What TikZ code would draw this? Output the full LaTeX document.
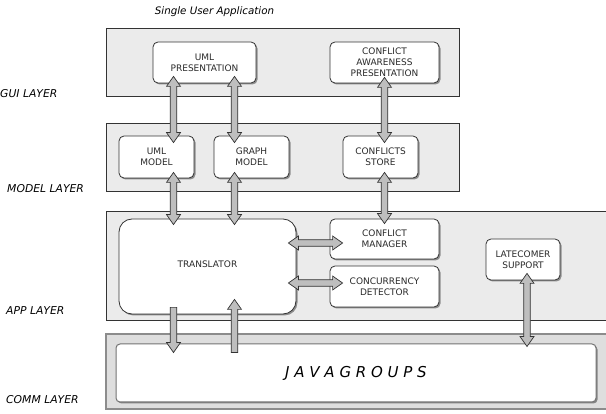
\documentclass[tikz,border=0pt]{standalone}
\usepackage{fontspec}
\setmainfont{DejaVu Sans}
\usetikzlibrary{calc,shadows}
\definecolor{layerfill}{HTML}{EBEBEB}
\definecolor{commfill}{HTML}{DEDEDE}
\definecolor{arrowfill}{HTML}{BEBEBE}
\definecolor{edgecol}{HTML}{333333}
\definecolor{txtcol}{HTML}{2A2A2A}
% double-headed fat arrow between two named coordinates
\newcommand\fatdbl[2]{%
  \draw[fatarrow] (#1)
    -- ($(#1)!10pt!(#2)!7pt!90:(#2)$) -- ($(#1)!10pt!(#2)!3.3pt!90:(#2)$)
    -- ($(#2)!10pt!(#1)!3.3pt!-90:(#1)$) -- ($(#2)!10pt!(#1)!7pt!-90:(#1)$)
    -- (#2)
    -- ($(#2)!10pt!(#1)!7pt!90:(#1)$) -- ($(#2)!10pt!(#1)!3.3pt!90:(#1)$)
    -- ($(#1)!10pt!(#2)!3.3pt!-90:(#2)$) -- ($(#1)!10pt!(#2)!7pt!-90:(#2)$)
    -- cycle;}
% single-headed fat arrow from tail #1 to tip #2
\newcommand\fatone[2]{%
  \draw[fatarrow] ($(#1)!3.3pt!90:(#2)$)
    -- ($(#2)!10pt!(#1)!3.3pt!-90:(#1)$) -- ($(#2)!10pt!(#1)!7pt!-90:(#1)$)
    -- (#2)
    -- ($(#2)!10pt!(#1)!7pt!90:(#1)$) -- ($(#2)!10pt!(#1)!3.3pt!90:(#1)$)
    -- ($(#1)!3.3pt!-90:(#2)$) -- cycle;}
\tikzset{
  layer/.style={draw=edgecol, line width=0.8pt, fill=layerfill},
  commlayer/.style={draw=black!45, line width=1.2pt, fill=commfill},
  comp/.style={draw=edgecol, line width=0.8pt, fill=white, rounded corners=5pt,
    drop shadow={shadow xshift=1.5pt, shadow yshift=-1.5pt, fill=black, opacity=0.4},
    align=center, font=\fontsize{9}{11}\selectfont, text=txtcol, inner sep=0pt},
  layerlabel/.style={anchor=base west, inner sep=0pt, font=\fontsize{10.8}{12}\selectfont\itshape},
  fatarrow/.style={draw=edgecol, line width=0.7pt, fill=arrowfill, line join=miter},
}
\begin{document}
\begin{tikzpicture}[x=1pt,y=-1pt]
\useasboundingbox (0,0) rectangle (606,414);
\fill[white] (0,0) rectangle (606,414);
% layers
\draw[layer] (106,28) rectangle (459,96);
\draw[layer] (106,123) rectangle (459,191);
\draw[layer] (106,211) rectangle (612,320);
\draw[commlayer] (106,334) rectangle (612,409);
% labels
\node[anchor=base, inner sep=0pt, font=\fontsize{10.3}{12}\selectfont\itshape] (title) at (214.5,15) {Single User Application};
\node[layerlabel] (lgui) at (0,98) {GUI LAYER};
\node[layerlabel] (lmodel) at (7,193) {MODEL LAYER};
\node[layerlabel] (lapp) at (6,315) {APP LAYER};
\node[layerlabel] (lcomm) at (6,404) {COMM LAYER};
% components
\node[comp, minimum width=103pt, minimum height=41pt] (umlp) at (204.5,62.5) {UML\\PRESENTATION};
\node[comp, minimum width=109pt, minimum height=41pt] (cap) at (384.5,62.5) {CONFLICT\\AWARENESS\\PRESENTATION};
\node[comp, minimum width=75pt, minimum height=42pt] (umlm) at (156.5,157) {UML\\MODEL};
\node[comp, minimum width=75pt, minimum height=42pt] (graph) at (251.5,157) {GRAPH\\MODEL};
\node[comp, minimum width=75pt, minimum height=42pt] (store) at (380.5,157) {CONFLICTS\\STORE};
\node[comp, rounded corners=13pt, minimum width=177pt, minimum height=95pt] (trans) at (207.5,266.5) {\raisebox{4.5pt}{TRANSLATOR}};
\node[comp, minimum width=109pt, minimum height=40pt] (mgr) at (384.5,239) {CONFLICT\\MANAGER};
\node[comp, minimum width=109pt, minimum height=41pt] (det) at (384.5,286.5) {CONCURRENCY\\DETECTOR};
\node[comp, minimum width=74pt, minimum height=41pt] (late) at (523,259.5) {LATECOMER\\SUPPORT};
\node[comp, draw=black!55, line width=1pt, rounded corners=4pt, minimum width=480pt, minimum height=58pt,
      font=\fontsize{15}{18}\selectfont\itshape, text=black] (jg) at (356,373) {J A V A G R O U P S};
% lanes
\coordinate (L1) at (173.5,0);
\coordinate (L2) at (234.5,0);
\coordinate (L3) at (384.5,0);
\coordinate (L4) at (527,0);
% connector end points
\coordinate (a1) at ($(umlp.south -| L1)+(0,-7)$);
\coordinate (b1) at ($(umlm.north -| L1)+(0,7)$);
\coordinate (a2) at ($(umlp.south -| L2)+(0,-7)$);
\coordinate (b2) at ($(graph.north -| L2)+(0,7)$);
\coordinate (a3) at ($(cap.south -| L3)+(0,-6)$);
\coordinate (b3) at ($(store.north -| L3)+(0,7)$);
\coordinate (c1) at ($(umlm.south -| L1)+(0,-6)$);
\coordinate (d1) at ($(trans.north -| L1)+(0,6)$);
\coordinate (c2) at ($(graph.south -| L2)+(0,-6)$);
\coordinate (d2) at ($(trans.north -| L2)+(0,6)$);
\coordinate (c3) at ($(store.south -| L3)+(0,-6)$);
\coordinate (d3) at ($(mgr.north -| L3)+(0,5)$);
\coordinate (h1a) at ($(trans.east |- 0,243)+(-8,0)$);
\coordinate (h1b) at ($(mgr.west |- 0,243)+(13,0)$);
\coordinate (h2a) at ($(trans.east |- 0,283)+(-8,0)$);
\coordinate (h2b) at ($(det.west |- 0,283)+(13,0)$);
\coordinate (e1) at ($(trans.south -| L1)+(0,-7)$);
\coordinate (f1) at ($(jg.north -| L1)+(0,9)$);
\coordinate (e2) at ($(jg.north -| L2)+(0,9)$);
\coordinate (f2) at ($(trans.south -| L2)+(0,-15)$);
\coordinate (g1) at ($(late.south -| L4)+(0,-7)$);
\coordinate (g2) at ($(jg.north -| L4)+(0,3)$);
% connectors
\fatdbl{a1}{b1}
\fatdbl{a2}{b2}
\fatdbl{a3}{b3}
\fatdbl{c1}{d1}
\fatdbl{c2}{d2}
\fatdbl{c3}{d3}
\fatdbl{h1a}{h1b}
\fatdbl{h2a}{h2b}
\fatone{e1}{f1}
\fatone{e2}{f2}
\fatdbl{g1}{g2}
\end{tikzpicture}
\end{document}
